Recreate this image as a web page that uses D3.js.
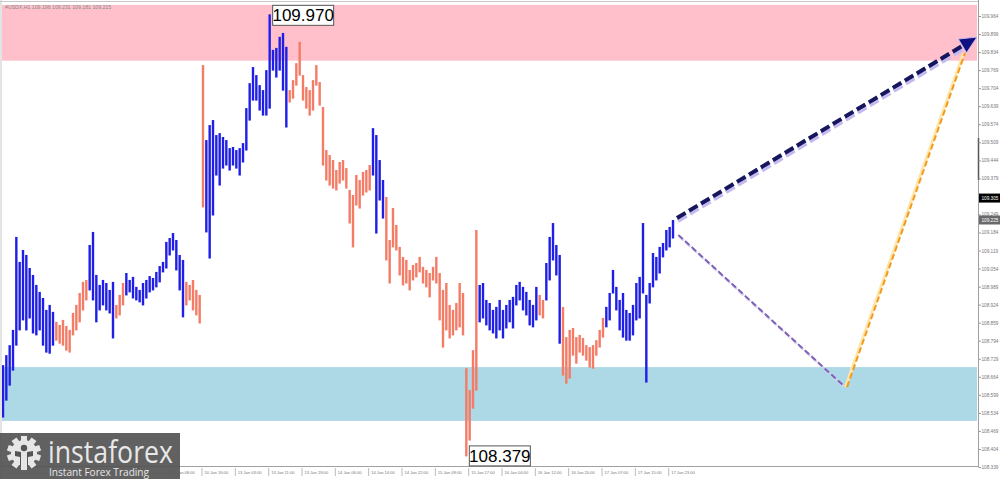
<!DOCTYPE html>
<html><head><meta charset="utf-8">
<script src="https://cdn.jsdelivr.net/npm/d3@7"></script>
<style>
html,body{margin:0;padding:0;background:#fff;overflow:hidden}
svg{display:block}
</style></head><body>
<svg id="c" width="1000" height="479"></svg>
<script>
// ---- data ----
const barHigh = [
108.706,108.742,108.778,108.833,109.168,109.078,109.121,109.103,109.056,109.031,
108.995,108.970,108.948,108.905,108.923,108.898,108.862,108.851,108.869,108.847,
108.833,108.894,108.923,108.966,109.006,109.013,109.139,109.186,109.031,108.995,
109.013,109.002,108.977,109.006,108.923,108.959,109.002,109.038,109.013,109.024,
108.988,108.977,109.002,109.013,109.027,109.020,109.042,109.063,109.078,109.150,
109.164,109.182,109.157,109.103,109.085,109.006,108.995,109.013,108.977,108.959,
109.787,109.517,109.571,109.589,109.535,109.542,109.528,109.517,109.488,109.492,
109.481,109.488,109.506,109.632,109.722,109.780,109.751,109.715,109.697,109.769,
109.970,109.842,109.849,109.889,109.903,109.853,109.697,109.733,109.794,109.871,
109.751,109.708,109.697,109.733,109.787,109.726,109.636,109.481,109.463,109.445,
109.409,109.438,109.445,109.416,109.337,109.319,109.391,109.373,109.402,109.409,
109.427,109.560,109.535,109.445,109.373,109.312,109.157,109.272,109.211,109.132,
109.096,109.085,109.049,109.067,109.074,109.096,109.060,109.049,109.038,109.060,
109.096,109.038,108.977,109.002,108.923,108.905,108.930,109.002,108.966,108.695,
108.616,108.760,109.193,108.995,109.002,108.941,108.930,108.905,108.916,108.941,
108.905,108.923,108.941,108.952,108.995,109.006,108.988,108.970,108.941,108.923,
108.988,108.959,108.941,109.074,109.168,109.218,109.139,109.103,108.916,108.807,
108.833,108.840,108.807,108.815,108.804,108.778,108.771,108.778,108.796,108.833,
108.876,108.916,108.966,109.049,108.988,108.941,108.966,108.905,108.894,108.923,
109.002,109.024,109.218,108.959,109.002,109.110,109.096,109.132,109.146,109.193,
109.204,109.229];
const barLow = [
108.519,108.580,108.634,108.688,108.778,108.833,108.869,108.833,108.876,108.822,
108.815,108.833,108.778,108.753,108.749,108.778,108.796,108.785,108.778,108.760,
108.753,108.815,108.833,108.862,108.905,108.941,108.977,108.941,108.862,108.905,
108.923,108.905,108.894,108.804,108.876,108.887,108.923,108.959,108.970,108.948,
108.941,108.934,108.923,108.948,108.970,108.977,108.988,109.006,109.042,109.056,
109.103,109.121,109.049,108.977,108.880,108.923,108.941,108.905,108.887,108.858,
109.276,109.186,109.092,109.247,109.391,109.355,109.416,109.427,109.409,109.427,
109.416,109.391,109.438,109.481,109.589,109.661,109.661,109.625,109.607,109.607,
109.632,109.769,109.744,109.769,109.697,109.564,109.654,109.668,109.715,109.751,
109.661,109.632,109.607,109.625,109.715,109.643,109.427,109.373,109.355,109.344,
109.337,109.362,109.373,109.344,109.218,109.132,109.283,109.272,109.319,109.330,
109.337,109.391,109.182,109.301,109.236,109.085,109.002,109.132,109.121,109.031,
108.995,109.002,108.977,109.013,109.024,109.042,109.002,108.988,108.952,109.013,
109.002,108.869,108.771,108.833,108.804,108.815,108.833,108.844,108.815,108.379,
108.436,108.551,108.616,108.862,108.876,108.851,108.833,108.822,108.804,108.833,
108.804,108.840,108.862,108.840,108.923,108.941,108.905,108.887,108.851,108.844,
108.869,108.887,108.876,108.941,109.013,109.085,109.031,108.785,108.670,108.641,
108.659,108.742,108.713,108.753,108.742,108.724,108.699,108.695,108.742,108.771,
108.807,108.844,108.869,108.966,108.905,108.833,108.807,108.796,108.796,108.815,
108.869,108.876,108.966,108.645,108.930,108.988,109.013,109.038,109.096,109.121,
109.132,109.164];
const waveStart = [0,16,26,34,37,55,61,86,111,115,143,161,163,168,181];
const waveDir = ["up","down","up","down","up","down","up","down","up","down","up","down","up","down","up"];
const timeLabels = ["08 Jan 10:00","08 Jan 18:00","09 Jan 05:00","09 Jan 13:00","09 Jan 21:00",
"10 Jan 08:00","10 Jan 16:00","13 Jan 03:00","13 Jan 11:00","13 Jan 19:00","14 Jan 06:00",
"14 Jan 14:00","14 Jan 22:00","15 Jan 09:00","15 Jan 17:00","16 Jan 04:00","16 Jan 12:00",
"16 Jan 20:00","17 Jan 07:00","17 Jan 15:00","17 Jan 23:00"];
const yTickValues = [108.339,108.404,108.469,108.534,108.599,108.664,108.729,108.794,108.859,
108.924,108.989,109.054,109.119,109.184,109.249,109.314,109.379,109.444,109.509,109.574,
109.639,109.704,109.769,109.834,109.899,109.964];
const zoneNames = ["resistance","support"];
const zoneTop = [110.004, 108.699];
const zoneBottom = [109.803, 108.505];
const mainArrowIdx = [202.2, 292.2];
const mainArrowPrice = [109.236, 109.888];
const purpleIdx = [202.6, 252.0];
const purplePrice = [109.175, 108.634];
const orangeIdx = [253.2, 288.6];
const orangePrice = [108.627, 109.830];
const extremeIdx = [80, 139];
const extremePrice = [109.970, 108.379];
const header = "#USDX,H1  109.196 109.231 109.181 109.215";
const bidPrice = "109.305", bidValue = 109.308;
const lastPrice = "109.225", lastValue = 109.229;

// ---- drawing ----
const BLUE = "#1e1ee6", SALMON = "#f47c66";
const FONT = "Liberation Sans, Arial, sans-serif";
const svg = d3.select("#c");
const L = 2, R = 978, T = 3, B = 466;
const x = d3.scaleLinear().domain([0, 292.2]).range([3, 977]);
const y = d3.scaleLinear().domain([108.339, 109.964]).range([467, 16]);

svg.append("rect").attr("width",1000).attr("height",479).attr("fill","#fff");
svg.append("clipPath").attr("id","clip").append("rect").attr("x",L).attr("y",T).attr("width",R-L).attr("height",B-T);
const plot = svg.append("g").attr("clip-path","url(#clip)");

// zones
const zoneColors = ["#ffc0cb","#add8e6"];
plot.selectAll("rect.zone").data(zoneNames).join("rect").attr("class","zone")
  .attr("x",L).attr("width",R-L-1)
  .attr("y",(d,i)=>y(zoneTop[i])).attr("height",(d,i)=>y(zoneBottom[i])-y(zoneTop[i]))
  .attr("fill",(d,i)=>zoneColors[i]);

// bars
function colorOf(i){let k=0;for(let j=0;j<waveStart.length;j++) if(i>=waveStart[j]) k=j;return waveDir[k]==="up"?BLUE:SALMON;}
const bars = barHigh.map((h,i)=>({i,h,l:barLow[i]}));
plot.selectAll("line.bar").data(bars).join("line").attr("class","bar")
  .attr("x1",d=>x(d.i)).attr("x2",d=>x(d.i))
  .attr("y1",d=>y(d.h)).attr("y2",d=>y(d.l)+0.5)
  .attr("stroke",d=>colorOf(d.i)).attr("stroke-width",2.4);

// forecast lines
function seg(idx, pr){return [[x(idx[0]),y(pr[0])],[x(idx[1]),y(pr[1])]];}
const purple = seg(purpleIdx, purplePrice);
plot.append("line").attr("x1",purple[0][0]+1).attr("y1",purple[0][1]+1.5).attr("x2",purple[1][0]+1).attr("y2",purple[1][1]+1.5)
  .attr("stroke","#d8d0ee").attr("stroke-width",2.5).attr("stroke-dasharray","6,3");
plot.append("line").attr("x1",purple[0][0]).attr("y1",purple[0][1]).attr("x2",purple[1][0]).attr("y2",purple[1][1])
  .attr("stroke","#7e62b8").attr("stroke-width",2).attr("stroke-dasharray","6,3");

const orange = seg(orangeIdx, orangePrice);
plot.append("line").attr("x1",orange[0][0]-1.5).attr("y1",orange[0][1]).attr("x2",orange[1][0]-1.5).attr("y2",orange[1][1])
  .attr("stroke","#ffe6a8").attr("stroke-width",3);
plot.append("line").attr("x1",orange[0][0]).attr("y1",orange[0][1]).attr("x2",orange[1][0]).attr("y2",orange[1][1])
  .attr("stroke","#f09a1e").attr("stroke-width",2).attr("stroke-dasharray","6,3");

const main = seg(mainArrowIdx, mainArrowPrice);
const dx = main[1][0]-main[0][0], dy = main[1][1]-main[0][1], len = Math.hypot(dx,dy);
const ux = dx/len, uy = dy/len, hl = 17, hw = 8;
const bx = main[1][0]-ux*hl, by = main[1][1]-uy*hl;
plot.append("line").attr("x1",main[0][0]+1).attr("y1",main[0][1]+3).attr("x2",bx+1).attr("y2",by+3)
  .attr("stroke","#c4baf0").attr("stroke-width",4).attr("stroke-dasharray","10,4");
plot.append("line").attr("x1",main[0][0]).attr("y1",main[0][1]).attr("x2",bx).attr("y2",by)
  .attr("stroke","#16165e").attr("stroke-width",4).attr("stroke-dasharray","10,4");
plot.append("path")
  .attr("d",`M${main[1][0]},${main[1][1]}L${bx-uy*hw},${by+ux*hw}L${bx+uy*hw},${by-ux*hw}Z`)
  .attr("fill","#0f0f80").attr("stroke","#c4baf0").attr("stroke-width",1);

// frame
svg.append("line").attr("x1",0).attr("x2",R).attr("y1",1.5).attr("y2",1.5).attr("stroke","#c8c8c8");
svg.append("line").attr("x1",1).attr("x2",1).attr("y1",0).attr("y2",479).attr("stroke","#c8c8c8");
svg.append("line").attr("x1",L).attr("x2",R).attr("y1",B+0.5).attr("y2",B+0.5).attr("stroke","#a0a0a0");
svg.append("line").attr("x1",R+0.5).attr("x2",R+0.5).attr("y1",0).attr("y2",B+1).attr("stroke","#a0a0a0");
svg.append("line").attr("x1",R+0.5).attr("x2",R+0.5).attr("y1",138).attr("y2",180).attr("stroke","#555").attr("stroke-width",1.5);

// y axis
const yAxis = d3.axisRight(y).tickValues(yTickValues).tickSize(2.5).tickFormat(d3.format(".3f"));
const ya = svg.append("g").attr("transform",`translate(${R+0.5},0)`).call(yAxis);
ya.select(".domain").remove();
ya.selectAll("line").attr("stroke","#999");
ya.selectAll("text").attr("x",3).attr("font-family",FONT).attr("font-size",4.7).attr("fill","#777");

// price boxes on axis
function priceBox(v, txt, bg){
  const g = svg.append("g").attr("transform",`translate(${R+1},${y(v)})`);
  g.append("rect").attr("x",0).attr("y",-4.5).attr("width",21).attr("height",9).attr("fill",bg);
  g.append("text").attr("x",2.5).attr("y",1.8).attr("font-family",FONT).attr("font-size",4.7).attr("fill","#fff").text(txt);
}
priceBox(bidValue, bidPrice, "#000");
priceBox(lastValue, lastPrice, "#6a6a6a");

// x axis (labels under the logo are hidden in the original)
const xt = svg.append("g");
const tix = timeLabels.map((t,k)=>({t,i:k*10})).filter(d=>x(d.i) > 160);
xt.selectAll("line").data(tix).join("line").attr("x1",d=>x(d.i)-1).attr("x2",d=>x(d.i)-1)
  .attr("y1",B+2).attr("y2",B+10).attr("stroke","#bbb");
xt.selectAll("text").data(tix).join("text").attr("x",d=>x(d.i)+1.5).attr("y",B+8)
  .attr("font-family",FONT).attr("font-size",4.1).attr("fill","#777").text(d=>d.t);

// header
svg.append("text").attr("x",5).attr("y",9).attr("font-family",FONT)
  .attr("font-size",5.2).attr("fill","#888").text(header);

// extreme labels
extremeIdx.forEach((idx,k)=>{
  const px = x(idx)+3, py = y(extremePrice[k]);
  const g = svg.append("g");
  const bw = 61, bh = 20;
  const top = k===0 ? py-9 : py-10;
  g.append("rect").attr("x",px).attr("y",top).attr("width",bw).attr("height",bh)
    .attr("fill","#fff").attr("stroke","#555").attr("stroke-width",1);
  g.append("text").attr("x",px+bw/2).attr("y",top+16).attr("text-anchor","middle")
    .attr("font-family","Liberation Sans, Arial, sans-serif").attr("font-size",17).attr("fill","#000")
    .text(extremePrice[k].toFixed(3));
});

// logo
const lg = svg.append("g");
lg.append("rect").attr("x",0).attr("y",433).attr("width",180).attr("height",46).attr("fill","#555").attr("opacity",0.93);
const gear = lg.append("g").attr("transform","translate(24,453)");
d3.range(10).forEach(k=>{
  gear.append("rect").attr("x",-3).attr("y",-17).attr("width",6).attr("height",6).attr("fill","#e6e6e6")
    .attr("transform",`rotate(${k*36})`);
});
gear.append("circle").attr("r",13).attr("fill","#e6e6e6");
gear.append("circle").attr("cx",0).attr("cy",-5).attr("r",3.2).attr("fill","#555");
gear.append("path").attr("d","M-9,-2 L-3,-1 L-3,14 L3,14 L3,-1 L9,-2 L9,3 L4,4 L4,14 L-4,14 L-4,4 L-9,3Z").attr("fill","#555");
lg.append("text").attr("x",48).attr("y",463).attr("font-family","Open Sans, sans-serif").attr("font-size",31)
  .attr("fill","#e8e8e8").attr("textLength",125).attr("lengthAdjust","spacingAndGlyphs").text("instaforex");
lg.append("text").attr("x",49).attr("y",475.5).attr("font-family","Open Sans, sans-serif").attr("font-size",11)
  .attr("fill","#e8e8e8").attr("textLength",100).attr("lengthAdjust","spacingAndGlyphs").text("Instant Forex Trading");
</script>
</body></html>
